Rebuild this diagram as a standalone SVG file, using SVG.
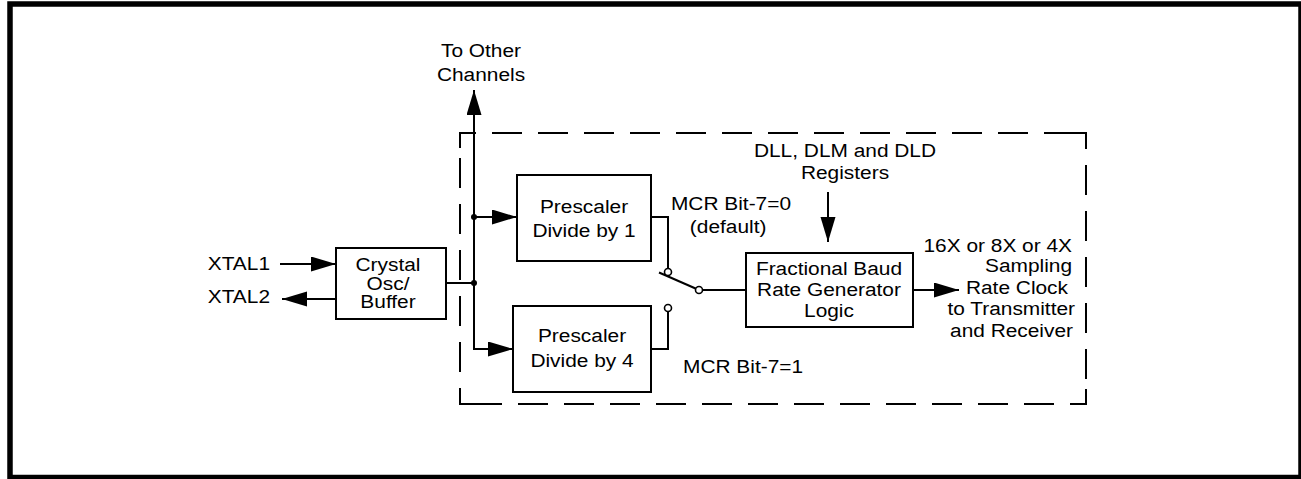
<svg xmlns="http://www.w3.org/2000/svg" width="1301" height="479" viewBox="0 0 1301 479">
<style>
.t{font-family:"Liberation Sans",Arial,sans-serif;font-size:18px;fill:#000}
.m{text-anchor:middle}
.e{text-anchor:end}
.box{fill:#fff;stroke:#000;stroke-width:2}
.ln{fill:none;stroke:#000;stroke-width:2}
.dash{fill:none;stroke:#000;stroke-width:2;stroke-dasharray:30 16}
.dot{fill:#000}
.ct{fill:#fff;stroke:#000;stroke-width:1.6}
</style>
<defs>
<marker id="ah" markerUnits="userSpaceOnUse" markerWidth="26" markerHeight="16" refX="25" refY="7.5" orient="auto">
<path d="M0,0 L25,7.5 L0,15 z" fill="#000"/>
</marker>
</defs>
<rect x="10" y="4" width="1291" height="473.5" fill="#fff" stroke="#000" stroke-width="5.5"/>
<g id="boundary">
<path class="dash" d="M460,133 L1086,133" stroke-dashoffset="14"/>
<path class="dash" d="M1086,133 L1086,404" stroke-dashoffset="14"/>
<path class="dash" d="M1086,404 L460,404" stroke-dashoffset="14"/>
<path class="dash" d="M460,404 L460,133" stroke-dashoffset="14"/>
<path class="ln" d="M460,148 V133 H475 M1071,133 H1086 V148 M1086,389 V404 H1071 M475,404 H460 V389"/>
</g>
<g id="connectors">
<line class="ln" x1="280" y1="264" x2="336" y2="264" marker-end="url(#ah)"/>
<line class="ln" x1="336" y1="299" x2="282" y2="299" marker-end="url(#ah)"/>
<line class="ln" x1="446" y1="283" x2="474" y2="283"/>
<line class="ln" x1="474" y1="350" x2="474" y2="90" marker-end="url(#ah)"/>
<line class="ln" x1="473" y1="349" x2="513" y2="349" marker-end="url(#ah)"/>
<line class="ln" x1="474" y1="217" x2="517" y2="217" marker-end="url(#ah)"/>
<polyline class="ln" points="651,217 668,217 668,268.5"/>
<polyline class="ln" points="651,349 668,349 668,311.5"/>
<line class="ln" x1="659" y1="272.5" x2="699" y2="290"/>
<line class="ln" x1="702.5" y1="290" x2="746" y2="290"/>
<line class="ln" x1="913" y1="290" x2="959" y2="290" marker-end="url(#ah)"/>
<line class="ln" x1="828" y1="192" x2="828" y2="242" marker-end="url(#ah)"/>
<circle class="dot" cx="474" cy="217" r="3"/>
<circle class="dot" cx="474" cy="283" r="3"/>
<circle class="ct" cx="668" cy="272" r="3.5"/>
<circle class="ct" cx="668" cy="308" r="3.5"/>
<circle class="ct" cx="699" cy="290" r="3.5"/>
</g>
<g id="crystal">
<rect class="box" x="336" y="248" width="110" height="71"/>
<text class="t m" transform="translate(388,0) scale(1.16,1)"><tspan x="0" y="271.5">Crystal</tspan><tspan x="0" y="290">Osc/</tspan><tspan x="0" y="308.5">Buffer</tspan></text>
</g>
<g id="xtal1">
<text class="t e" transform="translate(270,270) scale(1.16,1)">XTAL1</text>
</g>
<g id="xtal2">
<text class="t e" transform="translate(270,303) scale(1.16,1)">XTAL2</text>
</g>
<g id="other-channels">
<text class="t m" transform="translate(481,0) scale(1.16,1)"><tspan x="0" y="57">To Other</tspan><tspan x="0" y="81">Channels</tspan></text>
</g>
<g id="prescaler1">
<rect class="box" x="517" y="175" width="134" height="86"/>
<text class="t m" transform="translate(584,0) scale(1.16,1)"><tspan x="0" y="213">Prescaler</tspan><tspan x="0" y="237">Divide by 1</tspan></text>
</g>
<g id="prescaler4">
<rect class="box" x="513" y="306" width="138" height="86"/>
<text class="t m" transform="translate(582,0) scale(1.16,1)"><tspan x="0" y="342.5">Prescaler</tspan><tspan x="0" y="367.5">Divide by 4</tspan></text>
</g>
<g id="mcr0">
<text class="t m" transform="translate(731,0) scale(1.16,1)"><tspan x="0" y="210">MCR Bit-7=0</tspan><tspan x="-2.5" y="233">(default)</tspan></text>
</g>
<g id="mcr1">
<text class="t" transform="translate(683,373) scale(1.16,1)">MCR Bit-7=1</text>
</g>
<g id="registers">
<text class="t m" transform="translate(845,0) scale(1.16,1)"><tspan x="0" y="157">DLL, DLM and DLD</tspan><tspan x="0" y="179">Registers</tspan></text>
</g>
<g id="fbrg">
<rect class="box" x="746" y="253" width="167" height="74"/>
<text class="t m" transform="translate(829,0) scale(1.16,1)"><tspan x="0" y="275">Fractional Baud</tspan><tspan x="0" y="296">Rate Generator</tspan><tspan x="0" y="317">Logic</tspan></text>
</g>
<g id="output">
<text class="t e" transform="translate(1072,251.5) scale(1.16,1)">16X or 8X or 4X</text>
<text class="t e" transform="translate(1072,272) scale(1.16,1)">Sampling</text>
<text class="t e" transform="translate(1068,293.5) scale(1.16,1)">Rate Clock</text>
<text class="t e" transform="translate(1075,315) scale(1.16,1)">to Transmitter</text>
<text class="t e" transform="translate(1073,336.5) scale(1.16,1)">and Receiver</text>
</g>
</svg>
